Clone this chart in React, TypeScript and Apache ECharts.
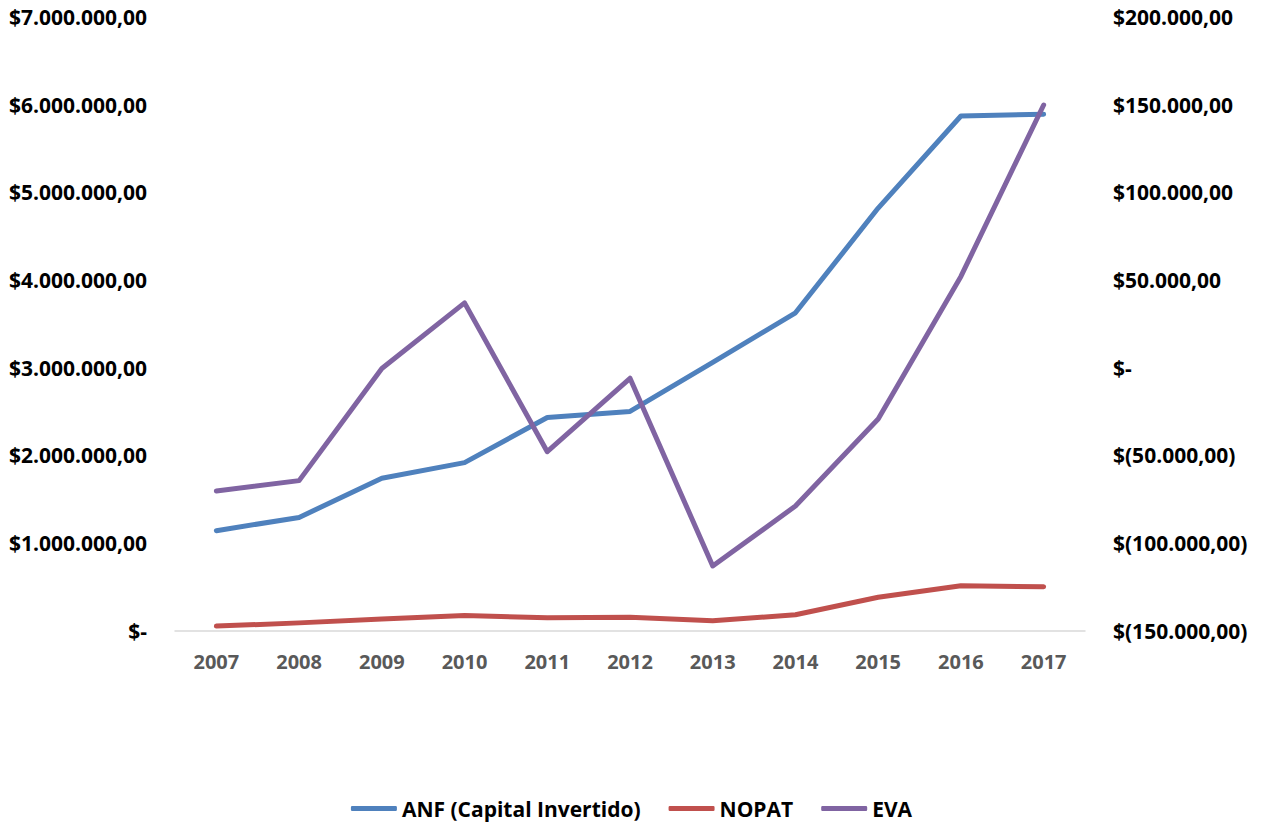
import React, { useEffect, useRef } from "react";
import * as echarts from "echarts";

const years = ["2007", "2008", "2009", "2010", "2011", "2012", "2013", "2014", "2015", "2016", "2017"];
const anf = [1139000, 1290000, 1737000, 1915000, 2430000, 2500000, 3060000, 3625000, 4820000, 5870000, 5890000];
const nopat = [50000, 87000, 130000, 172000, 145000, 150000, 110000, 180000, 380000, 510000, 500000];
const eva = [-70400, -64500, -500, 36900, -48000, -6100, -113200, -79000, -29300, 52000, 149800];

const fmt = (n: number) => {
  if (Math.abs(n) < 1e-6) return "$-";
  const s = Math.abs(n).toFixed(0).replace(/\B(?=(\d{3})+(?!\d))/g, ".") + ",00";
  return n < 0 ? `$(${s})` : `$${s}`;
};

const FONT = "Open Sans";

export default function App() {
  const ref = useRef<HTMLDivElement>(null);
  useEffect(() => {
    if (!ref.current) return;
    const chart = echarts.init(ref.current, undefined, { renderer: "svg" });
    chart.setOption({
      animation: false,
      backgroundColor: "#ffffff",
      textStyle: { fontFamily: FONT },
      grid: { left: 175, right: 178, top: 17, bottom: 195.5, containLabel: false },
      legend: {
        bottom: 2,
        left: "center",
        icon: "roundRect",
        itemWidth: 46,
        itemHeight: 5,
        itemGap: 28,
        textStyle: { fontFamily: FONT, fontWeight: "bold", fontSize: 21, color: "#000000" },
        data: ["ANF (Capital Invertido)", "NOPAT", "EVA"],
      },
      xAxis: {
        type: "category",
        data: years,
        boundaryGap: true,
        axisLine: { lineStyle: { color: "#d9d9d9", width: 1.5 } },
        axisTick: { show: false },
        axisLabel: { color: "#595959", fontWeight: "bold", fontSize: 20, fontFamily: FONT, margin: 21 },
      },
      yAxis: [
        {
          type: "value",
          min: 0,
          max: 7000000,
          interval: 1000000,
          axisLine: { show: false },
          axisTick: { show: false },
          splitLine: { show: false },
          axisLabel: { formatter: fmt, color: "#000000", fontWeight: "bold", fontSize: 21, fontFamily: FONT, margin: 28 },
        },
        {
          type: "value",
          min: -150000,
          max: 200000,
          interval: 50000,
          position: "right",
          axisLine: { show: false },
          axisTick: { show: false },
          splitLine: { show: false },
          axisLabel: { formatter: fmt, color: "#000000", fontWeight: "bold", fontSize: 21, fontFamily: FONT, margin: 28 },
        },
      ],
      series: [
        {
          name: "ANF (Capital Invertido)",
          type: "line",
          data: anf,
          yAxisIndex: 0,
          symbol: "none",
          color: "#4f81bd",
          lineStyle: { width: 5, color: "#4f81bd", cap: "round", join: "round" },
        },
        {
          name: "NOPAT",
          type: "line",
          data: nopat,
          yAxisIndex: 0,
          symbol: "none",
          color: "#c0504d",
          lineStyle: { width: 5, color: "#c0504d", cap: "round", join: "round" },
        },
        {
          name: "EVA",
          type: "line",
          data: eva,
          yAxisIndex: 1,
          symbol: "none",
          color: "#8064a2",
          lineStyle: { width: 5, color: "#8064a2", cap: "round", join: "round" },
        },
      ],
    });
    return () => chart.dispose();
  }, []);
  return <div ref={ref} style={{ position: "fixed", left: 0, top: 0, width: 1263, height: 826 }} />;
}
